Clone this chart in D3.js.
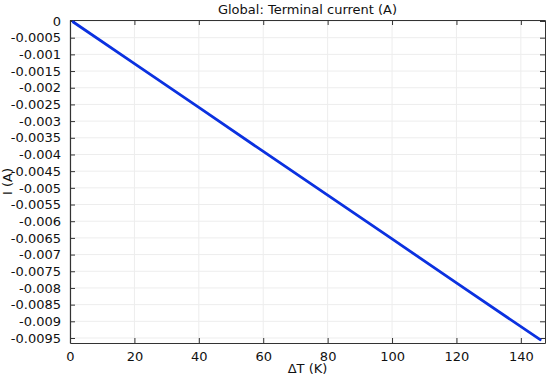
<!DOCTYPE html>
<html>
<head>
<meta charset="utf-8">
<script src="https://cdn.jsdelivr.net/npm/d3@7"></script>
<style>
  body { margin: 0; background: #fff; }
  svg { display: block; font-family: "DejaVu Sans", sans-serif; }
  .grid line { stroke: #ededed; stroke-width: 1; }
  .axis path, .axis line { stroke: #333; }
  .axis text { fill: #111; font-size: 13px; }
</style>
</head>
<body>
<div class="chart"></div>
<script>
// temperature difference (K) and terminal current (A)
const deltaT = [1, 20, 40, 60, 80, 100, 120, 146];
const current = [-0.00003, -0.00128, -0.00259, -0.00391, -0.00522, -0.00653, -0.00785, -0.00955];

const xTicks = [0, 20, 40, 60, 80, 100, 120, 140];
const yTicks = [0, -0.0005, -0.001, -0.0015, -0.002, -0.0025, -0.003, -0.0035, -0.004, -0.0045,
  -0.005, -0.0055, -0.006, -0.0065, -0.007, -0.0075, -0.008, -0.0085, -0.009, -0.0095];

const W = 550, H = 377;
const margin = ({top: 20, right: 5, bottom: 34, left: 70});
const width = W - margin.left - margin.right,
      height = H - margin.top - margin.bottom;

const svg = d3.select(".chart").append("svg")
    .attr("width", W)
    .attr("height", H);

const g = svg.append("g")
    .attr("transform", `translate(${margin.left},${margin.top})`);

const xScale = d3.scaleLinear()
    .domain([0, 147.5])
    .range([0, width]);

const yScale = d3.scaleLinear()
    .domain([0.00003, -0.00965])
    .range([0, height]);

// grid
const grid = g.append("g").attr("class", "grid");
grid.selectAll(".gx")
    .data(xTicks)
    .enter()
    .append("line")
    .attr("x1", d => xScale(d)).attr("x2", d => xScale(d))
    .attr("y1", 0).attr("y2", height);
grid.selectAll(".gy")
    .data(yTicks)
    .enter()
    .append("line")
    .attr("x1", 0).attr("x2", width)
    .attr("y1", d => yScale(d)).attr("y2", d => yScale(d));

// axes (ticks point inward)
const fmt = d => d === 0 ? "0" : String(+d.toFixed(4));

g.append("g")
    .attr("class", "axis x-axis")
    .attr("transform", `translate(0,${height})`)
    .call(d3.axisBottom(xScale).tickValues(xTicks).tickSizeInner(-5).tickSizeOuter(0).tickPadding(9))
    .call(a => a.select(".domain").attr("stroke-width", 1.2));

g.append("g")
    .attr("class", "axis x-axis-top")
    .call(d3.axisTop(xScale).tickValues(xTicks).tickSizeInner(-5).tickSizeOuter(0).tickFormat(""));

g.append("g")
    .attr("class", "axis y-axis")
    .call(d3.axisLeft(yScale).tickValues(yTicks).tickSizeInner(-5).tickSizeOuter(0).tickPadding(9).tickFormat(fmt))
    .call(a => a.select(".domain").attr("stroke-width", 1.2));

g.append("g")
    .attr("class", "axis y-axis-right")
    .attr("transform", `translate(${width},0)`)
    .call(d3.axisRight(yScale).tickValues(yTicks).tickSizeInner(-5).tickSizeOuter(0).tickFormat(""));

g.selectAll(".axis text").attr("font-family", "DejaVu Sans, sans-serif");

// line
const line = d3.line()
    .x((d, i) => xScale(deltaT[i]))
    .y(d => yScale(d));

g.append("path")
    .datum(current)
    .attr("fill", "none")
    .attr("stroke", "#0b31e0")
    .attr("stroke-width", 2.8)
    .attr("stroke-linecap", "round")
    .attr("d", line);

// titles
svg.append("text")
    .attr("x", margin.left + width / 2)
    .attr("y", 14)
    .attr("text-anchor", "middle")
    .attr("font-size", "13px")
    .attr("fill", "#111")
    .text("Global: Terminal current (A)");

svg.append("text")
    .attr("x", margin.left + width / 2)
    .attr("y", 373)
    .attr("text-anchor", "middle")
    .attr("font-size", "13px")
    .attr("fill", "#111")
    .text("ΔT (K)");

svg.append("text")
    .attr("transform", `translate(12,${margin.top + height / 2}) rotate(-90)`)
    .attr("text-anchor", "middle")
    .attr("font-size", "13px")
    .attr("fill", "#111")
    .text("I (A)");
</script>
</body>
</html>
